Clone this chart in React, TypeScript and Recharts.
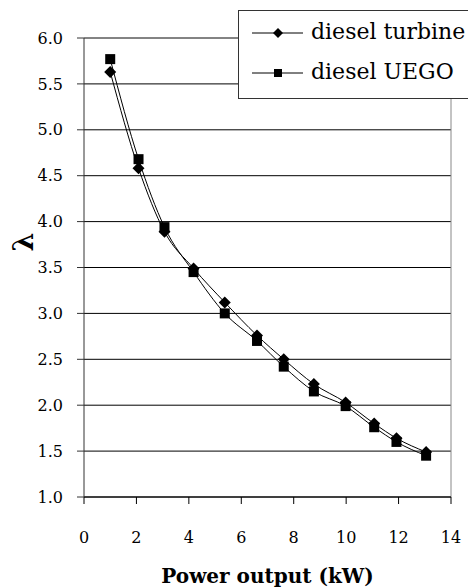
import React from "react";
import {
  LineChart,
  Line,
  XAxis,
  YAxis,
  CartesianGrid,
  ReferenceLine,
} from "recharts";

const powerKw = [1.0, 2.08, 3.07, 4.18, 5.37, 6.6, 7.62, 8.77, 9.98, 11.07, 11.92, 13.05];
const lambdaTurbine = [5.63, 4.58, 3.89, 3.49, 3.12, 2.76, 2.5, 2.23, 2.03, 1.8, 1.64, 1.49];
const lambdaUego = [5.77, 4.68, 3.94, 3.45, 3.0, 2.7, 2.42, 2.15, 1.99, 1.76, 1.6, 1.45];

const xTicks = [0, 2, 4, 6, 8, 10, 12, 14];
const yTicks = [1.0, 1.5, 2.0, 2.5, 3.0, 3.5, 4.0, 4.5, 5.0, 5.5, 6.0];

const seriesNames = ["diesel turbine", "diesel UEGO"];

const FONT = "'DejaVu Serif', serif";

const data = powerKw.map((p, i) => ({
  power: p,
  turbine: lambdaTurbine[i],
  uego: lambdaUego[i],
}));

function DiamondDot(props: any) {
  const { cx, cy } = props;
  if (cx == null || cy == null) return null;
  const r = 6;
  return (
    <path
      key={props.key ?? `d-${props.index}`}
      d={`M${cx},${cy - r} L${cx + r},${cy} L${cx},${cy + r} L${cx - r},${cy} Z`}
      fill="#000"
    />
  );
}

function SquareDot(props: any) {
  const { cx, cy } = props;
  if (cx == null || cy == null) return null;
  const s = 5;
  return (
    <rect
      key={props.key ?? `s-${props.index}`}
      x={cx - s}
      y={cy - s}
      width={s * 2}
      height={s * 2}
      fill="#000"
    />
  );
}

function LegendBox() {
  const rows = [
    { name: seriesNames[0], y: 22, marker: "diamond" },
    { name: seriesNames[1], y: 62, marker: "square" },
  ];
  return (
    <div
      style={{
        position: "absolute",
        left: 238,
        top: 10,
        width: 230,
        height: 87,
        border: "1px solid #333",
        borderRight: "none",
        background: "#fff",
      }}
    >
      <svg width={230} height={87}>
        {rows.map((r) => (
          <g key={r.name}>
            <line x1={13} x2={64} y1={r.y} y2={r.y} stroke="#000" strokeWidth={1} />
            {r.marker === "diamond" ? (
              <path
                d={`M39,${r.y - 5} L44,${r.y} L39,${r.y + 5} L34,${r.y} Z`}
                fill="#000"
              />
            ) : (
              <rect x={35} y={r.y - 4} width={8} height={8} fill="#000" />
            )}
            <text x={72} y={r.y + 6} fontFamily={FONT} fontSize={22} fill="#000">
              {r.name}
            </text>
          </g>
        ))}
      </svg>
    </div>
  );
}

export default function App() {
  return (
    <div
      style={{
        position: "absolute",
        left: 0,
        top: 0,
        width: 468,
        height: 588,
        background: "#fff",
      }}
    >
      <LineChart
        width={468}
        height={588}
        data={data}
        margin={{ top: 38, right: 17, left: 24, bottom: 0 }}
      >
        <CartesianGrid vertical={false} stroke="#000" strokeWidth={1} />
        <ReferenceLine y={6} stroke="#888" strokeWidth={1} />
        <ReferenceLine x={14} stroke="#888" strokeWidth={1} />
        <XAxis
          dataKey="power"
          type="number"
          domain={[0, 14]}
          ticks={xTicks}
          tickSize={7}
          tickMargin={28}
          height={91}
          axisLine={{ stroke: "#000" }}
          tickLine={{ stroke: "#000" }}
          tick={{ fill: "#000", fontFamily: FONT, fontSize: 16 }}
          label={{
            value: "Power output (kW)",
            position: "insideBottom",
            offset: 5,
            fill: "#000",
            fontFamily: FONT,
            fontSize: 20,
            fontWeight: "bold",
          }}
        />
        <YAxis
          type="number"
          domain={[1, 6]}
          ticks={yTicks}
          interval={0}
          width={60}
          tickSize={7}
          tickMargin={14}
          tickFormatter={(v: number) => v.toFixed(1)}
          axisLine={{ stroke: "#333" }}
          tickLine={{ stroke: "#333" }}
          tick={{ fill: "#000", fontFamily: FONT, fontSize: 16 }}
          label={{
            content: () => (
              <text
                x={23}
                y={242}
                transform="rotate(-90 23 242)"
                textAnchor="middle"
                dominantBaseline="central"
                fontFamily={FONT}
                fontSize={27}
                fontWeight="bold"
                fill="#000"
              >
                λ
              </text>
            ),
          }}
        />
        <Line
          type="monotone"
          dataKey="turbine"
          name={seriesNames[0]}
          stroke="#000"
          strokeWidth={1}
          dot={DiamondDot}
          activeDot={false}
          isAnimationActive={false}
        />
        <Line
          type="monotone"
          dataKey="uego"
          name={seriesNames[1]}
          stroke="#000"
          strokeWidth={1}
          dot={SquareDot}
          activeDot={false}
          isAnimationActive={false}
        />
      </LineChart>
      <LegendBox />
    </div>
  );
}
